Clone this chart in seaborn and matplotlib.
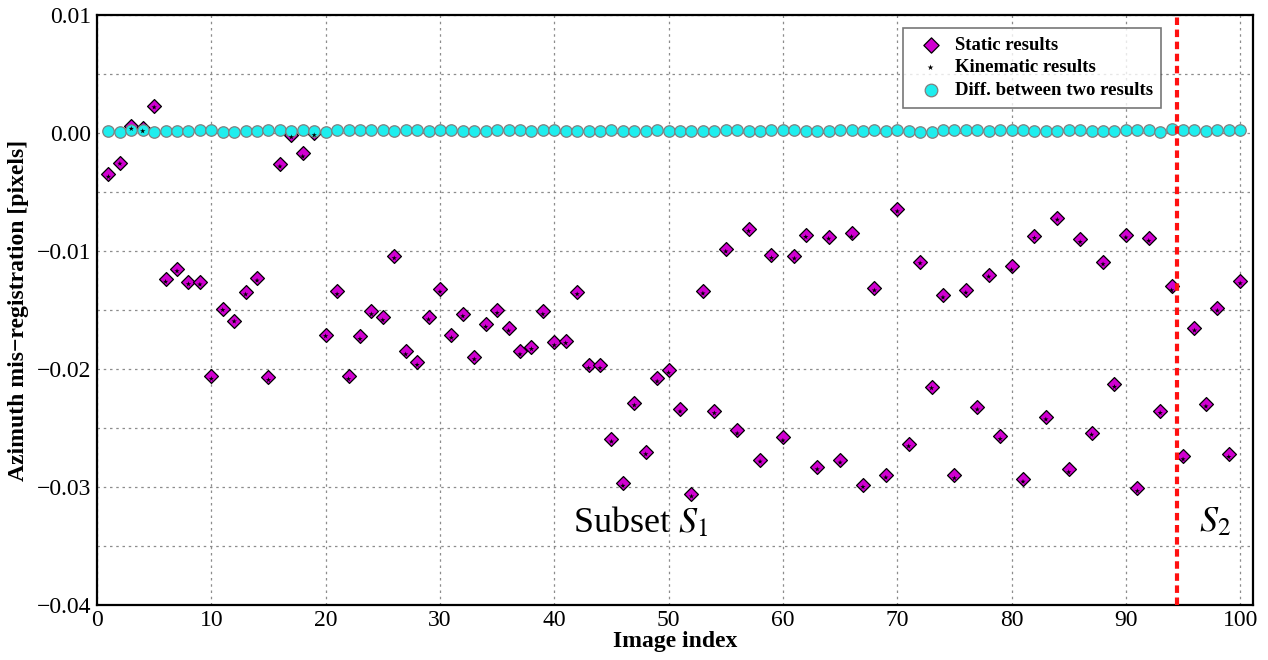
import numpy as np
import pandas as pd
import seaborn as sns
import matplotlib.pyplot as plt
from matplotlib.ticker import MultipleLocator, FuncFormatter

# data
image_index = list(range(1, 101))

static_results = [
    -0.0035, -0.0025, 0.0006, 0.0004, 0.0023, -0.0124, -0.0115, -0.0126, -0.0126, -0.0206,
    -0.0149, -0.0159, -0.0135, -0.0123, -0.0207, -0.0026, -0.0002, -0.0017, 0.0000, -0.0171,
    -0.0134, -0.0206, -0.0172, -0.0151, -0.0156, -0.0104, -0.0185, -0.0194, -0.0156, -0.0132,
    -0.0171, -0.0153, -0.0190, -0.0162, -0.0150, -0.0165, -0.0185, -0.0181, -0.0151, -0.0177,
    -0.0176, -0.0135, -0.0197, -0.0197, -0.0259, -0.0297, -0.0229, -0.0270, -0.0208, -0.0201,
    -0.0234, -0.0306, -0.0134, -0.0236, -0.0098, -0.0252, -0.0081, -0.0277, -0.0103, -0.0258,
    -0.0104, -0.0086, -0.0283, -0.0088, -0.0277, -0.0085, -0.0298, -0.0131, -0.0290, -0.0064,
    -0.0264, -0.0109, -0.0215, -0.0137, -0.0290, -0.0133, -0.0232, -0.0120, -0.0257, -0.0113,
    -0.0293, -0.0087, -0.0241, -0.0072, -0.0285, -0.0090, -0.0254, -0.0109, -0.0213, -0.0086,
    -0.0301, -0.0089, -0.0236, -0.0130, -0.0274, -0.0165, -0.0230, -0.0148, -0.0272, -0.0125,
]

# difference between the two results, in units of 1e-4
diff_e4 = [
    2.0, 0.9, 2.3, 2.3, 1.1, 2.0, 2.0, 2.0, 2.3, 2.3,
    0.9, 0.6, 1.7, 2.0, 2.3, 2.3, 1.4, 2.8, 1.7, 1.1,
    2.5, 2.5, 2.5, 2.5, 2.5, 2.0, 2.5, 2.5, 2.0, 2.5,
    2.5, 2.2, 1.7, 2.2, 2.5, 2.5, 2.5, 2.0, 2.5, 2.8,
    2.0, 1.5, 2.2, 2.2, 2.5, 2.0, 1.7, 2.2, 2.5, 2.2,
    2.0, 2.0, 1.9, 1.4, 2.3, 2.6, 2.0, 1.5, 2.8, 2.6,
    2.3, 2.0, 2.0, 1.5, 2.3, 2.8, 2.0, 2.3, 2.0, 2.3,
    1.5, 1.3, 1.2, 2.3, 2.6, 2.3, 2.3, 1.7, 2.3, 2.8,
    2.5, 1.9, 1.7, 1.4, 2.5, 2.3, 1.7, 2.1, 2.1, 2.5,
    2.5, 2.3, 1.2, 3.2, 2.5, 2.3, 1.7, 2.5, 2.5, 2.3,
]

subset_split = 94.5
y_ticks = [0.01, 0.00, -0.01, -0.02, -0.03, -0.04]
x_ticks = [0, 10, 20, 30, 40, 50, 60, 70, 80, 90, 100]

df = pd.DataFrame({'idx': image_index, 'static': static_results})
df['diff'] = np.array(diff_e4) * 1e-4
df['kinematic'] = df['static'] - df['diff']

sns.set_style('white')
plt.rcParams['font.family'] = ['Liberation Serif', 'DejaVu Serif']
plt.rcParams['mathtext.fontset'] = 'stix'
plt.rcParams['text.color'] = 'black'
plt.rcParams['axes.labelcolor'] = 'black'
plt.rcParams['xtick.color'] = 'black'
plt.rcParams['ytick.color'] = 'black'

fig = plt.figure(figsize=(12.68, 6.6), dpi=100)
ax = fig.add_axes([0.0765, 0.0835, 0.9115, 0.8935])

sns.scatterplot(data=df, x='idx', y='static', marker='D', s=50, color='#D000D0',
                edgecolor='black', linewidth=0.9, label='Static results', zorder=3, ax=ax)
sns.scatterplot(data=df, x='idx', y='kinematic', marker='*', s=16, color='black',
                edgecolor='none', label='Kinematic results', zorder=5, ax=ax)
sns.scatterplot(data=df, x='idx', y='diff', marker='o', s=68, color='#1EEEEE',
                edgecolor='#7f7f7f', linewidth=0.9, label='Diff. between two results', zorder=4, ax=ax)

ax.axvline(subset_split, color='#FF1010', linestyle=(0, (1.8, 1.1)), linewidth=3, zorder=6)

ax.set_xlim(0, 101.1)
ax.set_ylim(-0.04, 0.01)
ax.set_xticks(x_ticks)
ax.set_yticks(y_ticks)
ax.yaxis.set_minor_locator(MultipleLocator(0.005))
ax.yaxis.set_major_formatter(FuncFormatter(lambda v, p: f'{v:.2f}'.replace('-', '\u2212') if abs(v) > 1e-9 else '0.00'))
ax.grid(True, which='both', axis='y', color='#8c8c8c', linestyle=(0, (2, 3)), linewidth=0.9)
ax.grid(True, which='major', axis='x', color='#8c8c8c', linestyle=(0, (2, 3)), linewidth=0.9)
ax.tick_params(axis='both', which='major', labelsize=17, direction='in', length=4, pad=4)
ax.tick_params(axis='y', which='minor', length=0)
for sp in ax.spines.values():
    sp.set_linewidth(1.6)
    sp.set_color('black')

ax.set_xlabel('Image index', fontsize=17, fontweight='bold', labelpad=0)
ax.set_ylabel('Azimuth mis\u2212registration [pixels]', fontsize=17, fontweight='bold', labelpad=6)

ax.text(41.6, -0.033, r'Subset $\mathit{S}_{\mathrm{1}}$', fontsize=26, va='center', ha='left')
ax.text(96.4, -0.033, r'$\mathit{S}_{\mathrm{2}}$', fontsize=26, va='center', ha='left')

leg = ax.legend(loc='upper right', bbox_to_anchor=(0.921, 0.978), borderaxespad=0,
                frameon=True, fancybox=False, prop={'weight': 'bold', 'size': 13.5},
                handletextpad=0.3, borderpad=0.45, labelspacing=0.3, markerscale=1.1)
leg.get_frame().set_edgecolor('#555555')
leg.get_frame().set_linewidth(1.2)
leg.set_zorder(10)

plt.savefig('out.png', dpi=100)
